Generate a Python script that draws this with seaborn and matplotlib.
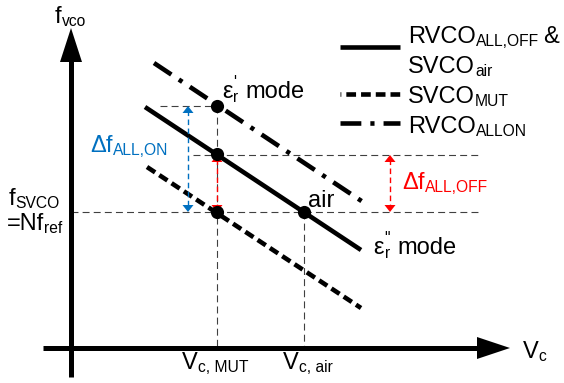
import matplotlib
matplotlib.use("Agg")
import matplotlib.pyplot as plt
import seaborn as sns

sns.set_style("white")
plt.rcParams["font.family"] = ["Liberation Sans", "DejaVu Sans"]
plt.rcParams["lines.scale_dashes"] = False

W, H = 564, 383

# ---- schematic data (drawing units = pixel grid of the diagram) ----
rvco_off_x = [145, 361]; rvco_off_y = [107, 250]     # RVCO_ALL,OFF & SVCO_air
svco_mut_x = [147, 361]; svco_mut_y = [167, 308]     # SVCO_MUT
rvco_on_x = [154, 363];  rvco_on_y = [63, 202]       # RVCO_ALLON
pt_x = [217, 217, 217, 304]
pt_y = [106, 154, 212, 212]
guide_h_x0 = [160, 193, 71]; guide_h_x1 = [217, 480, 480]; guide_h_y = [106, 155, 212]
guide_v_x = [217, 304]; guide_v_y0 = [106, 212]; guide_v_y1 = [348, 348]
arrow_x = [188, 217, 390]; arrow_y0 = [106, 155, 155]; arrow_y1 = [212, 212, 212]
arrow_c = ["#0070C0", "#FF0000", "#FF0000"]
axis_ox, axis_oy = 71, 348
yaxis_bottom, yaxis_tip = 377, 28
xaxis_left, xaxis_tip = 43, 510
legend_x = [340, 400]; legend_y = [47, 94, 123]

BLUE = "#0070C0"; RED = "#FF0000"
FS = 17
SUB = 0.66

fig = plt.figure(figsize=(W / 100, H / 100), dpi=100)
ax = fig.add_axes([0, 0, 1, 1])
ax.set_xlim(0, W)
ax.set_ylim(H, 0)
ax.axis("off")

LW = 3.3
ls_mut = (0, (7, 3.6))
ls_on = (0, (15, 6.5, 3, 6.5))
ls_guide = (0, (5, 3))
ls_arrow = (0, (4, 2.5))

def line(xs, ys, color="black", lw=LW, ls="-", z=2, cap="butt"):
    l = sns.lineplot(x=xs, y=ys, ax=ax, color=color, lw=lw, linestyle=ls,
                     estimator=None, sort=False, zorder=z)
    l.lines[-1].set_dash_capstyle(cap)
    l.lines[-1].set_solid_capstyle(cap)

# guides
for x0, x1, y in zip(guide_h_x0, guide_h_x1, guide_h_y):
    line([x0, x1], [y, y], color="#404040", lw=0.8, ls=ls_guide, z=1)
for x, y0, y1 in zip(guide_v_x, guide_v_y0, guide_v_y1):
    line([x, x], [y0, y1], color="#404040", lw=0.8, ls=ls_guide, z=1)

# main lines
line(rvco_off_x, rvco_off_y, ls="-", z=3)
line(svco_mut_x, svco_mut_y, ls=ls_mut, z=3)
line(rvco_on_x, rvco_on_y, ls=ls_on, z=3)

# double arrows
def head(x, ytip, d, color, w=5.5, L=7, z=4):
    ax.fill([x, x - w, x + w], [ytip, ytip + d * L, ytip + d * L], color=color, lw=0, zorder=z)

for x, y0, y1, c in zip(arrow_x, arrow_y0, arrow_y1, arrow_c):
    line([x, x], [y0 + 4, y1 - 4], color=c, lw=1.0, ls=ls_arrow, z=4)
    head(x, y0, 1, c)
    head(x, y1, -1, c)

# points
sns.scatterplot(x=pt_x, y=pt_y, ax=ax, s=90, color="black", edgecolor="black",
                linewidth=0, zorder=5)

# axes
line([axis_ox, axis_ox], [yaxis_bottom, yaxis_tip + 30], lw=3.6, z=6)
line([xaxis_left, xaxis_tip - 30], [axis_oy, axis_oy], lw=3.6, z=6)
ax.fill([axis_ox, axis_ox - 11, axis_ox + 11], [yaxis_tip, yaxis_tip + 34, yaxis_tip + 34],
        color="black", lw=0, zorder=6)
ax.fill([xaxis_tip, xaxis_tip - 33, xaxis_tip - 33], [axis_oy, axis_oy - 11, axis_oy + 11],
        color="black", lw=0, zorder=6)

# legend
line(legend_x, [legend_y[0]] * 2, ls="-", z=3)
line(legend_x, [legend_y[1]] * 2, ls=(6.4, (7, 3.6)), z=3)
line(legend_x, [legend_y[2]] * 2, ls=ls_on, z=3)

renderer = fig.canvas.get_renderer()

def rich(x, y, parts, color="black", fs=FS):
    for p in parts:
        if isinstance(p, str):
            p = (p, "n")
        kind = p[1]
        if kind == "gap":
            x += p[0]
            continue
        if kind == "n":
            t = ax.text(x, y, p[0], fontsize=fs, color=color, va="baseline", ha="left")
            x += t.get_window_extent(renderer).width
        elif kind == "sub":
            t = ax.text(x, y + 3, p[0], fontsize=fs * SUB, color=color, va="baseline", ha="left")
            x += t.get_window_extent(renderer).width
        elif kind == "supsub":
            sup, sub = p[0]
            t1 = ax.text(x + 1, y - 11, sup, fontsize=fs * SUB, color=color, va="baseline", ha="left")
            t2 = ax.text(x + 1, y + 4, sub, fontsize=fs * SUB, color=color, va="baseline", ha="left")
            x += max(t1.get_window_extent(renderer).width, t2.get_window_extent(renderer).width) + 1

rich(55, 23, ["f", ("vco", "sub")])
rich(523, 358, ["V", ("c", "sub")])
rich(408, 43, ["RVCO", ("ALL,OFF", "sub"), (4, "gap"), "&"])
rich(408, 73, ["SVCO", ("air", "sub")])
rich(408, 103, ["SVCO", ("MUT", "sub")])
rich(408, 133, ["RVCO", ("ALLON", "sub")])
rich(90, 152, ["Δf", ("ALL,ON", "sub")], color=BLUE)
rich(402, 189, ["Δf", ("ALL,OFF", "sub")], color=RED)
rich(222, 98, ["ε", (("'", "r"), "supsub"), (7, "gap"), "mode"])
rich(373, 254, ["ε", (('"', "r"), "supsub"), (7, "gap"), "mode"])
rich(308, 207, ["air"])
rich(9, 205, ["f", ("SVCO", "sub")])
rich(7, 230, ["=Nf", ("ref", "sub")])
rich(182, 369, ["V", ("c, MUT", "sub")])
rich(283, 369, ["V", ("c, air", "sub")])

fig.savefig("out.png", dpi=100)
